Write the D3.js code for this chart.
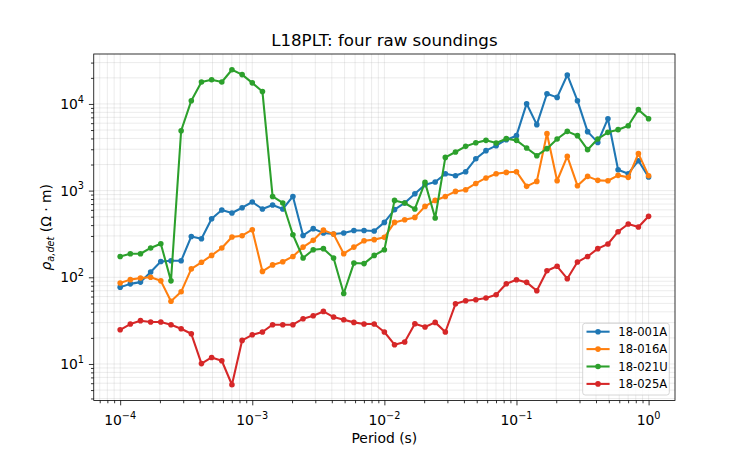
<!DOCTYPE html>
<html>
<head>
<meta charset="utf-8">
<script src="https://cdn.jsdelivr.net/npm/d3@7"></script>
<style>
  body { margin: 0; background: #fff; }
  svg { display: block; font-family: "DejaVu Sans", sans-serif; }
</style>
</head>
<body>
<svg id="chart" width="750" height="450"></svg>
<script>
// Periods: 13 per decade from 1e-4 s to 1 s (53 samples)
const periodExponents = d3.range(53).map(i => -4 + i / 13);
const periods = periodExponents.map(e => Math.pow(10, e));

const seriesNames = ["18-001A", "18-016A", "18-021U", "18-025A"];
const seriesColors = ["#1f77b4", "#ff7f0e", "#2ca02c", "#d62728"];

const rho_18_001A = [77, 84, 88, 115, 152, 155, 155, 296, 279, 474, 597, 552, 635, 739, 614, 683, 614, 857,
  304, 364, 324, 316, 324, 347, 347, 342, 430, 603, 720, 922, 1170, 1256, 1567, 1486, 1653, 2333,
  2891, 3300, 3870, 4305, 10070, 5770, 13100, 11900, 21600, 10900, 4790, 3600, 6760, 1740, 1567, 2214, 1435];
const rho_18_016A = [86, 94, 98, 100, 91, 53, 68, 125, 149, 179, 218, 292, 302, 354, 117, 139, 151, 174,
  223, 267, 350, 315, 187, 223, 264, 272, 289, 430, 461, 491, 658, 771, 857, 979, 1025, 1210,
  1400, 1567, 1623, 1653, 1120, 1278, 4540, 1300, 2483, 1140, 1460, 1313, 1300, 1500, 1423, 2669, 1486];
const rho_18_021U = [174, 187, 187, 218, 244, 91, 4910, 10900, 17900, 19050, 17900, 24800, 21800, 17500, 13900, 857, 720, 310,
  167, 208, 214, 167, 65, 146, 144, 179, 208, 771, 720, 614, 1244, 483, 2416, 2792, 3240, 3570,
  3800, 3540, 3975, 3800, 3100, 2530, 3050, 3940, 4830, 4305, 2968, 3940, 4700, 5050, 5610, 8590, 6760];
const rho_18_025A = [24.8, 28.9, 31.6, 30.5, 30.5, 28.4, 25.5, 22.3, 10.1, 11.9, 10.9, 5.76, 18.7, 21.7, 23.4, 28.4, 28.4, 28.4,
  33.3, 36.0, 40.4, 34.8, 32.4, 30.2, 28.9, 28.9, 23.4, 16.7, 17.9, 29.1, 26.7, 30.2, 23.4, 49.5, 53.7, 55.1,
  57.7, 63.0, 84.3, 93.8, 87.4, 70.0, 119, 134, 96.4, 150, 174, 214, 242, 336, 412, 380, 505];

const seriesValues = [rho_18_001A, rho_18_016A, rho_18_021U, rho_18_025A];

const xMajorExp = [-4, -3, -2, -1, 0];
const yMajorExp = [1, 2, 3, 4];

// ---- layout (matplotlib default subplot params for 7.5x4.5 in @100dpi)
const W = 750, H = 450;
const L = 93.75, R = 675, T = 54, B = 400.5;

const svg = d3.select("#chart");

// log-space 5% margins like matplotlib autoscale
function logDomain(vals) {
  const lo = Math.log10(d3.min(vals)), hi = Math.log10(d3.max(vals));
  const m = (hi - lo) * 0.05;
  return [Math.pow(10, lo - m), Math.pow(10, hi + m)];
}
const x = d3.scaleLog().domain(logDomain(periods)).range([L, R]);
const y = d3.scaleLog().domain(logDomain(seriesValues.flat())).range([B, T]);

function minorTicks(scale) {
  const [d0, d1] = scale.domain();
  const out = [];
  for (let e = Math.floor(Math.log10(d0)) - 1; e <= Math.ceil(Math.log10(d1)); e++) {
    for (let k = 2; k <= 9; k++) {
      const v = k * Math.pow(10, e);
      if (v >= d0 && v <= d1) out.push(v);
    }
  }
  return out;
}
const xMajor = xMajorExp.map(e => Math.pow(10, e));
const yMajor = yMajorExp.map(e => Math.pow(10, e));
const xMinor = minorTicks(x);
const yMinor = minorTicks(y);

// ---- grid (both major and minor)
const grid = svg.append("g").attr("class", "grid");
[...xMajor, ...xMinor].forEach(v => {
  grid.append("line").attr("x1", x(v)).attr("x2", x(v)).attr("y1", T).attr("y2", B)
    .attr("stroke", "#b0b0b0").attr("stroke-opacity", 0.3).attr("stroke-width", 0.8);
});
[...yMajor, ...yMinor].forEach(v => {
  grid.append("line").attr("y1", y(v)).attr("y2", y(v)).attr("x1", L).attr("x2", R)
    .attr("stroke", "#b0b0b0").attr("stroke-opacity", 0.3).attr("stroke-width", 0.8);
});

// ---- series
const clipId = "plotclip";
svg.append("clipPath").attr("id", clipId).append("rect")
  .attr("x", L).attr("y", T).attr("width", R - L).attr("height", B - T);

const line = d3.line().x(d => x(d[0])).y(d => y(d[1]));
const plot = svg.append("g").attr("clip-path", `url(#${clipId})`);
seriesValues.forEach((vals, si) => {
  const pts = periods.map((p, i) => [p, vals[i]]);
  const g = plot.append("g");
  g.append("path").attr("d", line(pts)).attr("fill", "none")
    .attr("stroke", seriesColors[si]).attr("stroke-width", 2.08)
    .attr("stroke-linejoin", "round").attr("stroke-linecap", "square");
  g.selectAll("circle").data(pts).join("circle")
    .attr("cx", d => x(d[0])).attr("cy", d => y(d[1])).attr("r", 2.8)
    .attr("fill", seriesColors[si]);
});

// ---- axes
const xAxisG = svg.append("g").attr("transform", `translate(0,${B})`);
xAxisG.call(d3.axisBottom(x).tickValues(xMajor).tickSize(4.86).tickFormat(""));
const xMinorG = svg.append("g").attr("transform", `translate(0,${B})`);
xMinorG.call(d3.axisBottom(x).tickValues(xMinor).tickSize(2.78).tickFormat(""));
const yAxisG = svg.append("g").attr("transform", `translate(${L},0)`);
yAxisG.call(d3.axisLeft(y).tickValues(yMajor).tickSize(4.86).tickFormat(""));
const yMinorG = svg.append("g").attr("transform", `translate(${L},0)`);
yMinorG.call(d3.axisLeft(y).tickValues(yMinor).tickSize(2.78).tickFormat(""));
[xAxisG, xMinorG, yAxisG, yMinorG].forEach(g => {
  g.select(".domain").remove();
  g.selectAll(".tick line").attr("stroke", "#000").attr("stroke-width", 0.8);
});

// frame
svg.append("rect").attr("x", L).attr("y", T).attr("width", R - L).attr("height", B - T)
  .attr("fill", "none").attr("stroke", "#000").attr("stroke-width", 0.8);

// tick labels with superscripts
xMajorExp.forEach(e => {
  const t = svg.append("text").attr("x", x(Math.pow(10, e))).attr("y", 425)
    .attr("text-anchor", "middle").attr("font-size", 13.9).attr("fill", "#000");
  t.append("tspan").text("10");
  t.append("tspan").attr("dy", -6.2).attr("font-size", 9.7).text(e < 0 ? "\u2212" + (-e) : String(e));
});
yMajorExp.forEach(e => {
  const t = svg.append("text").attr("x", 84).attr("y", y(Math.pow(10, e)) + 5)
    .attr("text-anchor", "end").attr("font-size", 13.9).attr("fill", "#000");
  t.append("tspan").text("10");
  t.append("tspan").attr("dy", -6.2).attr("font-size", 9.7).text(String(e));
});

// axis labels
svg.append("text").attr("x", (L + R) / 2).attr("y", 443).attr("text-anchor", "middle")
  .attr("font-size", 13.9).text("Period (s)");

const yl = svg.append("text").attr("transform", `translate(51,${(T + B) / 2}) rotate(-90)`)
  .attr("text-anchor", "middle").attr("font-size", 13.9);
yl.append("tspan").attr("font-style", "italic").text("\u03C1");
yl.append("tspan").attr("font-style", "italic").attr("font-size", 9.7).attr("dy", 3).text("a,det");
yl.append("tspan").attr("dy", -3).text(" (\u03A9 \u00B7 m)");

// title
svg.append("text").attr("x", (L + R) / 2).attr("y", 46).attr("text-anchor", "middle")
  .attr("font-size", 16.67).text("L18PLT: four raw soundings");

// ---- legend
const lgX = 582.7, lgY = 323.3, lgW = 86.6, lgH = 71.7;
const lg = svg.append("g");
lg.append("rect").attr("x", lgX).attr("y", lgY).attr("width", lgW).attr("height", lgH)
  .attr("rx", 2.5).attr("fill", "#fff").attr("fill-opacity", 0.8)
  .attr("stroke", "#cccccc").attr("stroke-width", 0.8);
seriesNames.forEach((name, i) => {
  const cy = lgY + 8.4 + i * 17.4;
  lg.append("line").attr("x1", 586.5).attr("x2", 609.6).attr("y1", cy).attr("y2", cy)
    .attr("stroke", seriesColors[i]).attr("stroke-width", 2.08);
  lg.append("circle").attr("cx", 598).attr("cy", cy).attr("r", 2.8).attr("fill", seriesColors[i]);
  lg.append("text").attr("x", 618.3).attr("y", cy + 4.1).attr("font-size", 11.57).text(name);
});
</script>
</body>
</html>
